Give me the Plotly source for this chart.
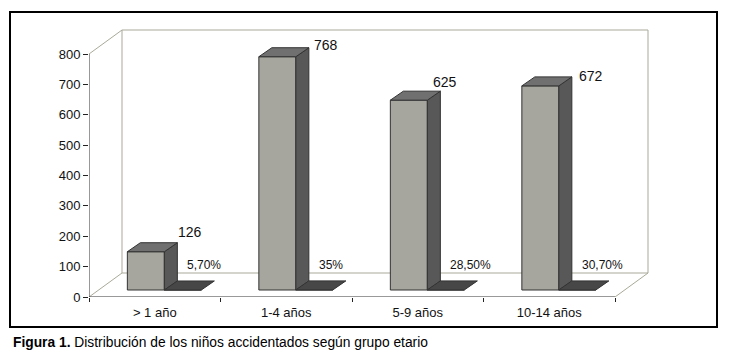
import plotly.graph_objects as go

# ---------------- data ----------------
categories = ["> 1 año", "1-4 años", "5-9 años", "10-14 años"]
counts = [126, 768, 625, 672]
percents = [5.7, 35.0, 28.5, 30.7]
percent_labels = ["5,70%", "35%", "28,50%", "30,70%"]
y_ticks = [0, 100, 200, 300, 400, 500, 600, 700, 800]
caption = "<b>Figura 1.</b> Distribución de los niños accidentados según grupo etario"

# ---------------- layout geometry (pixels) ----------------
OFF = 8                      # page body margin
W, H = 731 - OFF, 361 - OFF
ML, MT = 89 - OFF, 25 - OFF
PLOT_R, PLOT_B = 660 - OFF, 297 - OFF
MR, MB = W - PLOT_R, H - PLOT_B
PW = W - ML - MR
PH = H - MT - MB
N = len(categories)
CAT_PX = 131.5              # pixels per category
Y_TOP = y_ticks[-1]
Y_PX = 243 / Y_TOP          # pixels per value unit
XR = PW / CAT_PX
YR = PH / Y_PX


def ux(px):
    return px / CAT_PX


def uy(px):
    return px / Y_PX


def paper_x(px):
    return (px - OFF - ML) / PW


def paper_y(py):
    return (H - MB - (py - OFF)) / PH


# 3D depth vectors (in data units)
WDX, WDY = ux(33), uy(24)     # wall depth
FDX, FDY = ux(9.6), uy(7)     # bar front plane
BDX, BDY = ux(13), uy(9)      # bar depth
BW = ux(37)                   # bar width

FONT = "Liberation Sans, Arial, sans-serif"
FRONT = "#a6a69e"
SIDE = "#585858"
TOP = "#707070"
FLAT = "#474747"
EDGE = "#333333"
WALL = "#a9a999"

fig = go.Figure()

# front faces of the count bars
s1_left = [i + 0.5 - BW + FDX for i in range(N)]
s2_left = [i + 0.5 + FDX for i in range(N)]
fig.add_trace(go.Bar(
    x=[l + BW / 2 for l in s1_left], y=counts, base=FDY, width=BW,
    marker=dict(color=FRONT, line=dict(color=EDGE, width=1)),
    hoverinfo="skip", showlegend=False))
# front faces of the percent bars (almost zero height)
fig.add_trace(go.Bar(
    x=[l + BW / 2 for l in s2_left], y=[p / 100 for p in percents], base=FDY, width=BW,
    marker=dict(color=FLAT, line=dict(color=EDGE, width=1)),
    hoverinfo="skip", showlegend=False))


def faces(lefts, heights):
    sx, sy, tx, ty = [], [], [], []
    for l, h in zip(lefts, heights):
        r = l + BW
        b = FDY
        t = FDY + h
        sx += [r, r + BDX, r + BDX, r, r, None]
        sy += [b, b + BDY, t + BDY, t, b, None]
        tx += [l, r, r + BDX, l + BDX, l, None]
        ty += [t, t, t + BDY, t + BDY, t, None]
    return sx, sy, tx, ty


sx, sy, tx, ty = faces(s1_left, counts)
fig.add_trace(go.Scatter(x=sx, y=sy, mode="lines", fill="toself", fillcolor=SIDE,
                         line=dict(color=EDGE, width=1), hoverinfo="skip", showlegend=False))
fig.add_trace(go.Scatter(x=tx, y=ty, mode="lines", fill="toself", fillcolor=TOP,
                         line=dict(color=EDGE, width=1), hoverinfo="skip", showlegend=False))
sx2, sy2, tx2, ty2 = faces(s2_left, [p / 100 for p in percents])
fig.add_trace(go.Scatter(x=tx2, y=ty2, mode="lines", fill="toself", fillcolor=FLAT,
                         line=dict(color=EDGE, width=1), hoverinfo="skip", showlegend=False))

# front axis lines
fig.add_trace(go.Scatter(x=[0, 0, N], y=[Y_TOP, 0, 0], mode="lines",
                         line=dict(color="#333333", width=1), hoverinfo="skip", showlegend=False))

# walls and floor (behind the bars)
shapes = [
    dict(type="line", xref="x", yref="y", x0=WDX, y0=WDY, x1=WDX, y1=Y_TOP + WDY),
    dict(type="line", xref="x", yref="y", x0=WDX, y0=Y_TOP + WDY, x1=N + WDX, y1=Y_TOP + WDY),
    dict(type="line", xref="x", yref="y", x0=N + WDX, y0=Y_TOP + WDY, x1=N + WDX, y1=WDY),
    dict(type="line", xref="x", yref="y", x0=WDX, y0=WDY, x1=N + WDX, y1=WDY),
    dict(type="line", xref="x", yref="y", x0=0, y0=Y_TOP, x1=WDX, y1=Y_TOP + WDY),
    dict(type="line", xref="x", yref="y", x0=0, y0=0, x1=WDX, y1=WDY),
    dict(type="line", xref="x", yref="y", x0=N, y0=0, x1=N + WDX, y1=WDY),
]
for s in shapes:
    s["line"] = dict(color=WALL, width=1)
    s["layer"] = "below"
# outer frame
shapes.append(dict(type="rect", xref="paper", yref="paper",
                   x0=paper_x(10), x1=paper_x(717), y0=paper_y(327), y1=paper_y(12),
                   line=dict(color="black", width=2), layer="above"))

annotations = []
val_dx = [49, 53, 41, 55]
val_dy = [20, 12, 18, 10]
for l, c, dxp, dyp in zip(s1_left, counts, val_dx, val_dy):
    annotations.append(dict(x=l, y=FDY + c, xref="x", yref="y", text=str(c),
                            showarrow=False, xanchor="left", yanchor="middle",
                            xshift=dxp, yshift=dyp,
                            font=dict(family=FONT, size=14, color="#111111")))
for l, p, t in zip(s2_left, percents, percent_labels):
    annotations.append(dict(x=l, y=FDY + p / 100, xref="x", yref="y", text=t,
                            showarrow=False, xanchor="left", yanchor="middle",
                            xshift=21, yshift=25,
                            font=dict(family=FONT, size=12, color="#111111")))
annotations.append(dict(x=paper_x(11), y=paper_y(342), xref="paper", yref="paper",
                        text=caption, showarrow=False, xanchor="left", yanchor="middle",
                        font=dict(family=FONT, size=13.8, color="#000000")))

fig.update_layout(
    width=W, height=H,
    margin=dict(l=ML, r=MR, t=MT, b=MB, pad=0),
    paper_bgcolor="white", plot_bgcolor="white",
    barmode="overlay", showlegend=False,
    shapes=shapes, annotations=annotations,
    xaxis=dict(range=[0, XR], showgrid=False, zeroline=False, showline=False,
               tickmode="array", tickvals=[i + 0.5 for i in range(N)], ticktext=categories,
               ticks="", ticklabelstandoff=6,
               tickfont=dict(family=FONT, size=13, color="#111111"),
               minor=dict(tickmode="array", tickvals=list(range(N + 1)), ticks="outside",
                          ticklen=4, tickcolor="#222222", showgrid=False),
               fixedrange=True),
    yaxis=dict(range=[0, YR], showgrid=False, zeroline=False, showline=False,
               tickmode="array", tickvals=y_ticks, ticks="outside", ticklen=5,
               tickcolor="#222222", tickfont=dict(family=FONT, size=13, color="#111111"),
               fixedrange=True),
)

fig.write_html("out.html")
